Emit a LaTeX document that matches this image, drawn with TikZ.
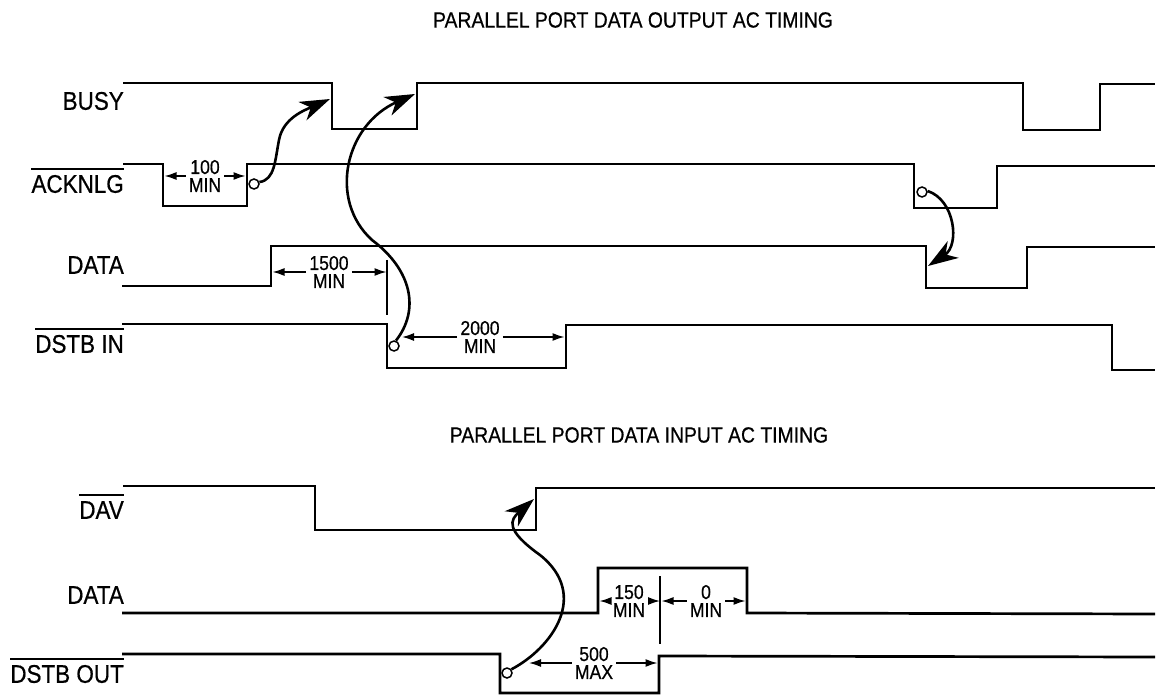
\documentclass[tikz,border=0pt]{standalone}
\usepackage{fontspec}
\setmainfont{Liberation Sans}[FakeStretch=0.88,FakeBold=0.6]
\usetikzlibrary{arrows.meta}

\begin{document}
\begin{tikzpicture}[x=1pt,y=-1pt,
    sig/.style={line width=2.7pt},
    dim/.style={line width=1.5pt,-{Latex[length=12pt,width=8pt]}},
    cause/.style={line width=2.6pt,-{Stealth[length=30pt,width=20pt,inset=9pt]}},
    ring/.style={circle,draw,fill=white,line width=1.5pt,minimum size=10pt},
    ovl/.style={line width=1.6pt},
    lbl/.style={anchor=east,font=\fontsize{25.5}{25.5}\selectfont},
    ttl/.style={font=\fontsize{22}{22}\selectfont},
    val/.style={align=center,inner sep=3pt,font=\fontsize{20}{18}\selectfont}]
      \tikzstyle{every node}+=[inner sep=0pt]
      \useasboundingbox (0,0) rectangle (1156,700);
      \node[ttl] (ttlout) at (633,20) {PARALLEL PORT DATA OUTPUT AC TIMING};
      \node[ttl] (ttlin) at (639,435) {PARALLEL PORT DATA INPUT AC TIMING};
      \node[lbl] (busy) at (124,101) {BUSY};
      \node[lbl] (acknlg) at (124,184) {ACKNLG};
      \node[lbl] (dataout) at (124,265) {DATA};
      \node[lbl] (dstbin) at (124,344) {DSTB IN};
      \node[lbl] (dav) at (124,510) {DAV};
      \node[lbl] (datain) at (124,595) {DATA};
      \node[lbl] (dstbout) at (124,674) {DSTB OUT};
      \foreach \n in {acknlg,dstbin,dav,dstbout}
        \draw[ovl] ([yshift=6pt]\n.north west) -- ([yshift=6pt]\n.north east);
      \draw[sig] (123,83) -- (332,83) -- (332,129) -- (417,129) -- (417,83) -- (1023,83)
        -- (1023,130) -- (1100,130) -- (1100,84) -- (1155,84);
      \draw[sig] (123,164) -- (163,164) -- (163,206) -- (247,206) -- (247,164) -- (914,164)
        -- (914,208) -- (997,208) -- (997,166) -- (1155,166);
      \draw[sig] (122,286) -- (271,286) -- (271,246) -- (926,246) -- (926,288) -- (1027,288)
        -- (1027,247) -- (1155,247);
      \draw[sig] (122,324) -- (387,324) -- (387,368) -- (566,368) -- (566,325) -- (1112,325)
        -- (1112,370) -- (1155,370);
      \draw[sig] (123,486) -- (315,486) -- (315,530) -- (536,530) -- (536,488) -- (1155,488);
      \draw[sig] (122,613) -- (598,613) -- (598,568) -- (747,568) -- (747,613) -- (1155,614);
      \draw[sig] (122,654) -- (500,654) -- (500,693) -- (659,693) -- (659,656) -- (1155,657);
      \coordinate (ackfall) at (164.5,176);
      \coordinate (ackrise) at (245.5,176);
      \coordinate (datarise) at (272.5,272);
      \coordinate (dstbfall) at (386.5,272);
      \coordinate (dstbtop) at (387,260);
      \coordinate (dstbbot) at (387,315);
      \coordinate (ringend) at (402,337);
      \coordinate (dstbrise) at (564.5,337);
      \coordinate (inrise) at (599.5,601);
      \coordinate (strobe) at (660,601);
      \coordinate (strobeb) at (661.5,601);
      \coordinate (strobetop) at (660,576);
      \coordinate (strobebot) at (660,644);
      \coordinate (infall) at (745.5,601);
      \coordinate (outring) at (529,663);
      \coordinate (outrise) at (657.5,663);
      \coordinate (busyfall) at (330,99);
      \coordinate (busyrise) at (415,94);
      \coordinate (datafall) at (928,266);
      \coordinate (davrise) at (534,499);
      \node[val] (hundred) at (205,176) {100\\MIN};
      \node[val] (fifteen) at (329,272) {1500\\MIN};
      \node[val] (twothou) at (480,337) {2000\\MIN};
      \node[val] (onefifty) at (629,601) {150\\MIN};
      \node[val] (zero) at (706,601) {0\\MIN};
      \node[val] (fivehun) at (594,663) {500\\MAX};
      \draw[dim] (hundred.west) -- (ackfall);
      \draw[dim] (hundred.east) -- (ackrise);
      \draw[dim] (fifteen.west) -- (datarise);
      \draw[dim] (fifteen.east) -- (dstbfall);
      \draw[line width=1.5pt] (dstbtop) -- (dstbbot);
      \draw[dim] (twothou.west) -- (ringend);
      \draw[dim] (twothou.east) -- (dstbrise);
      \draw[dim] (onefifty.west) -- (inrise);
      \draw[dim] (onefifty.east) -- (strobe);
      \draw[line width=1.5pt] (strobetop) -- (strobebot);
      \draw[dim] (zero.west) -- (strobeb);
      \draw[dim] (zero.east) -- (infall);
      \draw[dim] (fivehun.west) -- (outring);
      \draw[dim] (fivehun.east) -- (outrise);
      \node[ring] (ringa) at (254,184) {};
      \node[ring] (ringb) at (394,346) {};
      \node[ring] (ringc) at (922,192) {};
      \node[ring] (ringd) at (507,673) {};
      \draw[cause] (ringa.20) .. controls (275,180) and (275,160) .. (279,140)
        .. controls (283,118) and (305,110) .. (busyfall);
      \draw[cause] (ringb.70) .. controls (420,310) and (412,270) .. (372,240)
        .. controls (328,200) and (345,125) .. (busyrise);
      \draw[cause] (ringc.10) .. controls (955,200) and (960,245) .. (datafall);
      \draw[cause] (ringd.40) .. controls (552,648) and (590,595) .. (540,555)
        .. controls (505,530) and (510,520) .. (davrise);
    \end{tikzpicture}
\end{document}
